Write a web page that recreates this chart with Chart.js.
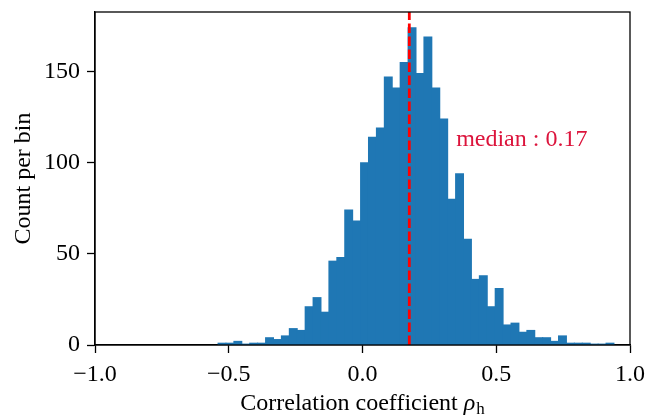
<!DOCTYPE html>
<html>
<head>
<meta charset="utf-8">
<script src="https://cdn.jsdelivr.net/npm/chart.js@4.4.1/dist/chart.umd.min.js"></script>
<style>
  html, body { margin: 0; padding: 0; background: #fff; }
  canvas { display: block; }
</style>
</head>
<body>
<canvas id="hist" width="647" height="416"></canvas>
<script>
// histogram bins (50 bins from -0.54 to 0.94)
const binStart = -0.54;
const binWidth = 0.0296;
const counts = [1, 1, 2, 0.5, 1, 1, 4, 3, 5, 9,
                8, 21, 26, 18, 46, 48, 74, 68, 100, 114,
                119, 147, 141, 155, 174, 149, 169, 141, 124, 80,
                94, 58, 36, 38, 21, 31, 11, 12, 7, 8,
                4, 4, 2, 5, 1, 1, 1, 0.5, 0.5, 1];
const xTicks = [-1.0, -0.5, 0.0, 0.5, 1.0];
const yTicks = [0, 50, 100, 150];
const median = 0.175;
const medianLabel = "median : 0.17";
const labelPos = { x: 0.35, y: 109 };

const FONT = "'Liberation Serif', 'DejaVu Serif', serif";
const FS = 24;

const points = counts.map((c, i) => ({ x: binStart + binWidth * (i + 0.5), y: c }));

const extras = {
  id: "extras",
  afterDatasetsDraw(chart) {
    const { ctx, chartArea: a, scales: { x, y } } = chart;
    ctx.save();
    // median line
    const mx = x.getPixelForValue(median);
    ctx.strokeStyle = "#ff0000";
    ctx.lineWidth = 2.8;
    ctx.setLineDash([9.5, 3.5]);
    ctx.beginPath();
    ctx.moveTo(mx, a.bottom);
    ctx.lineTo(mx, a.top);
    ctx.stroke();
    ctx.setLineDash([]);
    // median text
    ctx.fillStyle = "#dc143c";
    ctx.font = FS + "px " + FONT;
    ctx.textAlign = "left";
    ctx.textBaseline = "alphabetic";
    ctx.fillText(medianLabel, x.getPixelForValue(labelPos.x), y.getPixelForValue(labelPos.y));
    // frame
    ctx.strokeStyle = "#000";
    ctx.lineWidth = 1.3;
    ctx.strokeRect(a.left, a.top, a.right - a.left, a.bottom - a.top);
    // x axis label with subscript
    const main = "Correlation coefficient ";
    ctx.fillStyle = "#000";
    ctx.font = FS + "px " + FONT;
    const w1 = ctx.measureText(main).width;
    ctx.font = "italic " + FS + "px " + FONT;
    const w2 = ctx.measureText("ρ").width;
    ctx.font = Math.round(FS * 0.7) + "px " + FONT;
    const w3 = ctx.measureText("h").width;
    const total = w1 + w2 + w3 + 1;
    let tx = (a.left + a.right) / 2 - total / 2;
    const base = 410;
    ctx.font = FS + "px " + FONT;
    ctx.fillText(main, tx, base);
    tx += w1;
    ctx.font = "italic " + FS + "px " + FONT;
    ctx.fillText("ρ", tx, base);
    tx += w2 + 1;
    ctx.font = Math.round(FS * 0.7) + "px " + FONT;
    ctx.fillText("h", tx, base + 4);
    ctx.restore();
  }
};

new Chart(document.getElementById("hist"), {
  type: "bar",
  data: {
    datasets: [{
      data: points,
      backgroundColor: "#1f77b4",
      borderWidth: 0,
      inflateAmount: 0.5,
      barPercentage: 1,
      categoryPercentage: 1
    }]
  },
  options: {
    responsive: false,
    devicePixelRatio: 1,
    animation: false,
    layout: { padding: { left: 0, top: 12, right: 17, bottom: 0 } },
    plugins: { legend: { display: false }, tooltip: { enabled: false } },
    scales: {
      x: {
        type: "linear",
        offset: false,
        min: -1,
        max: 1,
        afterFit: s => { s.height = 71; s.paddingLeft = 0; s.paddingRight = 0; },
        afterBuildTicks: s => { s.ticks = xTicks.map(v => ({ value: v })); },
        ticks: {
          color: "#000",
          font: { family: FONT, size: FS },
          padding: 7,
          maxRotation: 0,
          callback: v => v.toFixed(1).replace("-", "\u2212")
        },
        grid: { offset: false, drawOnChartArea: false, drawTicks: true, tickLength: 8, tickColor: "#000", tickWidth: 1.3 },
        border: { display: true, color: "#000", width: 1.3 }
      },
      y: {
        min: 0,
        max: 182.7,
        afterFit: s => { s.width = 95; s.paddingTop = 0; s.paddingBottom = 0; },
        afterBuildTicks: s => { s.ticks = yTicks.map(v => ({ value: v })); },
        ticks: {
          color: "#000",
          font: { family: FONT, size: FS },
          padding: 7
        },
        title: {
          display: true,
          text: "Count per bin",
          color: "#000",
          font: { family: FONT, size: FS },
          padding: { top: 9, bottom: 0 }
        },
        grid: { offset: false, drawOnChartArea: false, drawTicks: true, tickLength: 8, tickColor: "#000", tickWidth: 1.3 },
        border: { display: true, color: "#000", width: 1.3 }
      }
    }
  },
  plugins: [extras]
});
</script>
</body>
</html>
